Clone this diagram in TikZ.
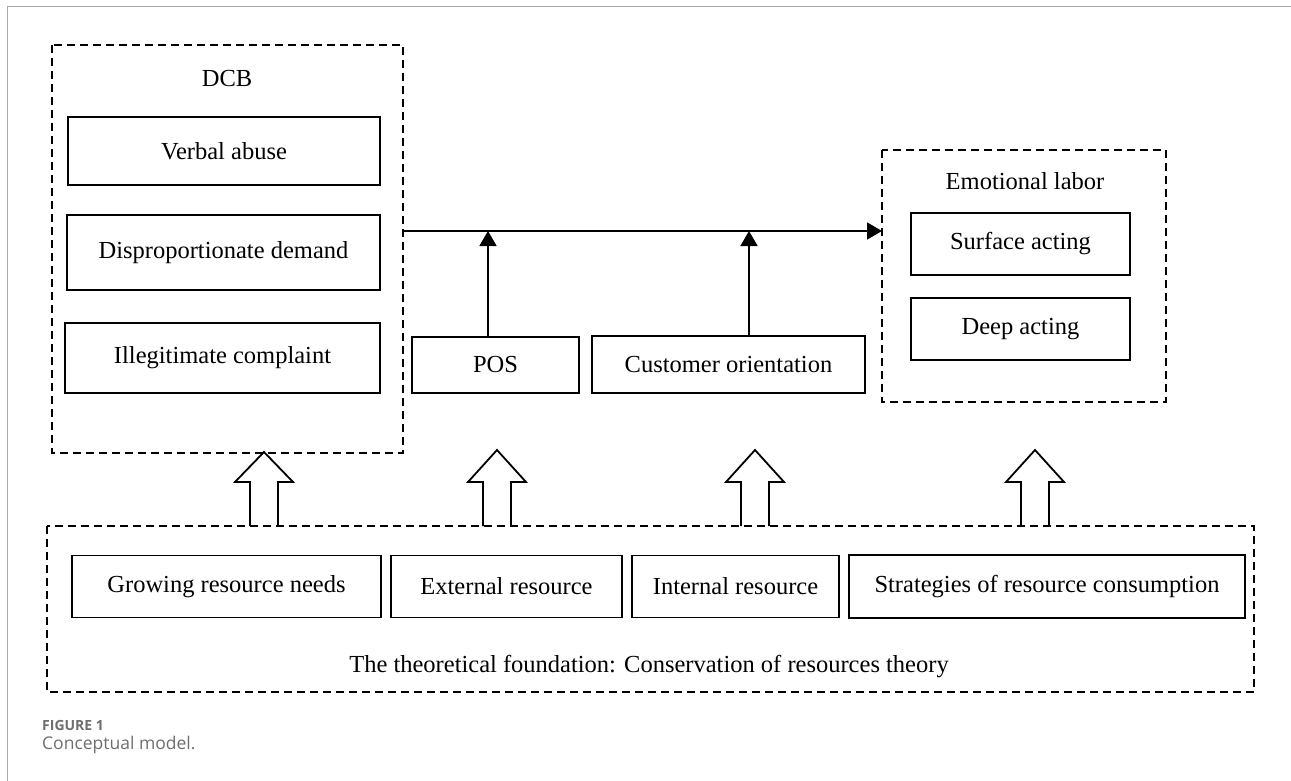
\documentclass[tikz,border=0pt]{standalone}
\usepackage{fontspec}
\setmainfont{Liberation Serif}
\newfontfamily\capfont{Open Sans}
\usetikzlibrary{arrows.meta}

\definecolor{framegray}{RGB}{170,170,170}
\definecolor{capgray}{RGB}{110,110,110}

\tikzset{
    box/.style={draw, line width=1.6pt, inner sep=0pt, font=\fontsize{24.5}{28}\selectfont},
    groupbox/.style={draw, line width=1.8pt, dash pattern=on 8pt off 5pt},
    label/.style={font=\fontsize{24.5}{28}\selectfont},
    flow/.style={line width=1.6pt, -{Triangle[length=15pt,width=17pt]}},
    blockarrow/.style={draw, line width=1.8pt, fill=white}
}

\begin{document}
\begin{tikzpicture}[x=1pt, y=-1pt]
\useasboundingbox (0,0) rectangle (1291,781);

% outer page frame
\draw[framegray, line width=1pt] (7,781) -- (7,7) -- (1291,7);

% DCB group
\draw[groupbox] (52,45) rectangle (403,453);
\node[label] (dcb) at (227,79) {DCB};
\node[box, minimum width=312pt, minimum height=68pt] (verbal) at (224,151) {Verbal abuse};
\node[box, minimum width=313pt, minimum height=75pt] (demand) at (223.5,252.5) {Disproportionate demand};
\node[box, minimum width=315pt, minimum height=70pt] (complaint) at (222.5,358) {Illegitimate complaint};

% Emotional labor group
\draw[groupbox] (882,150) rectangle (1166,402);
\node[label] (emo) at (1025,181) {Emotional labor};
\node[box, minimum width=219pt, minimum height=62pt] (surface) at (1020.5,244) {Surface acting};
\node[box, minimum width=219pt, minimum height=62pt] (deep) at (1020.5,329) {Deep acting};

% moderators
\node[box, minimum width=167pt, minimum height=56pt] (pos) at (495.5,365) {POS};
\node[box, minimum width=273pt, minimum height=57pt] (cust) at (728.5,364.5) {Customer orientation};

% main path
\coordinate (start) at (403,231);
\coordinate (stop) at (882,231);
\coordinate (posup) at (488,337);
\coordinate (custup) at (749,336);
\draw[flow] (start) -- (stop);
\draw[flow] (posup) -- (posup |- start);
\draw[flow] (custup) -- (custup |- start);

% block arrows from the foundation
\foreach \cx/\tip in {264/452, 497/450, 755/450, 1035/450} {
    \draw[blockarrow] (\cx-14,526) -- (\cx-14,482) -- (\cx-29,482) -- (\cx,\tip)
        -- (\cx+29,482) -- (\cx+14,482) -- (\cx+14,526);
}

% theoretical foundation
\draw[groupbox] (47,526) rectangle (1254,692);
\node[box, minimum width=309pt, minimum height=62pt] (growing) at (226.5,586.5) {Growing resource needs};
\node[box, minimum width=231pt, minimum height=62pt] (external) at (506.5,586.5) {External resource};
\node[box, minimum width=207pt, minimum height=62pt] (internal) at (735.5,586.5) {Internal resource};
\node[box, minimum width=396pt, minimum height=63pt] (strategies) at (1047,586.5) {Strategies of resource consumption};
\node[label] (theory) at (649,667) {The theoretical foundation: Conservation of resources theory};

% caption
\node[anchor=west, inner sep=0pt, text=capgray, font=\capfont\bfseries\fontsize{14}{16}\selectfont] (fig) at (42,725) {FIGURE 1};
\node[anchor=west, inner sep=0pt, text=capgray, font=\capfont\fontsize{17.5}{20}\selectfont] (cap) at (42,745) {Conceptual model.};
\end{tikzpicture}
\end{document}
